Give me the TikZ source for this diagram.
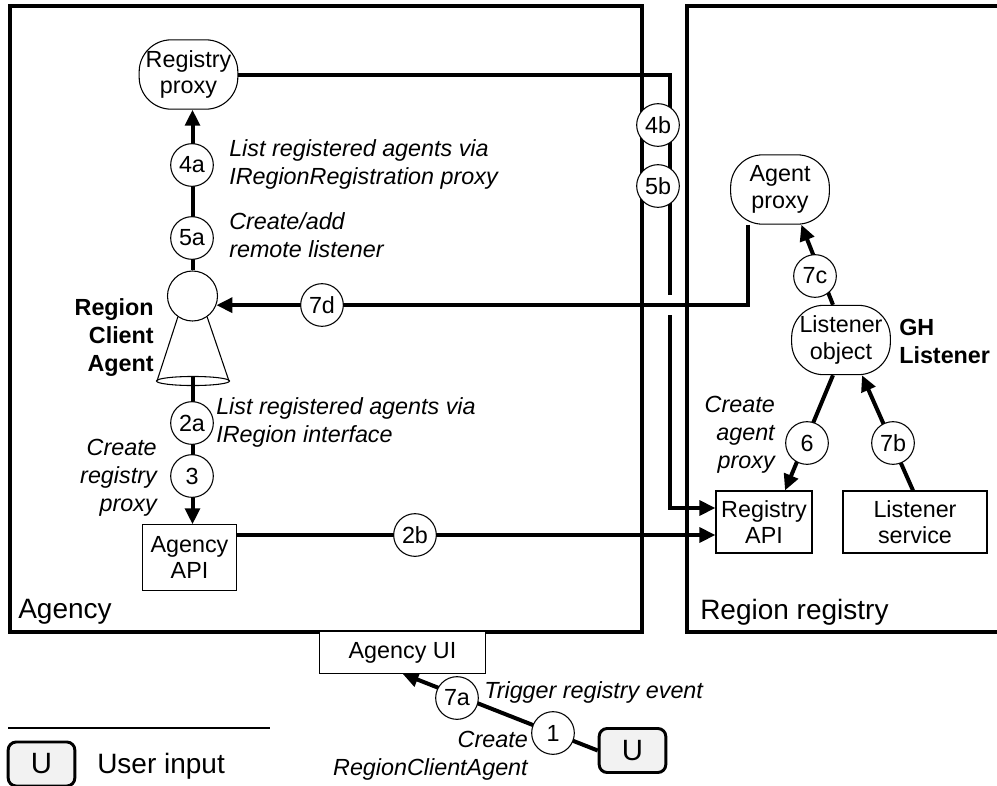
\documentclass[tikz,border=0pt]{standalone}
\usepackage{fontspec}
\setmainfont{Liberation Sans}
\usetikzlibrary{arrows.meta}
\pgfdeclarelayer{bg}
\pgfsetlayers{bg,main}
\begin{document}
\begin{tikzpicture}[x=0.75pt,y=-0.75pt,
  fnt/.style={font=\fontsize{17.5pt}{21pt}\selectfont},
  lab/.style={fnt, inner sep=0pt},
  ilab/.style={font=\fontsize{17.5pt}{21pt}\selectfont\itshape, inner sep=0pt},
  blab/.style={font=\fontsize{17.5pt}{21pt}\selectfont\bfseries, inner sep=0pt},
  big/.style={font=\fontsize{21pt}{24pt}\selectfont, inner sep=0pt},
  num/.style={circle, draw, line width=0.8pt, fill=white, minimum size=32pt, inner sep=0pt, fnt},
  rnd/.style={rectangle, rounded corners=24pt, draw, line width=0.8pt, fill=white, minimum width=74pt, minimum height=52pt, inner sep=0pt, align=center, font=\fontsize{17.5pt}{20pt}\selectfont},
  box/.style={rectangle, draw, line width=0.8pt, fill=white, inner sep=0pt, align=center, font=\fontsize{17.5pt}{20pt}\selectfont},
  ubox/.style={rectangle, rounded corners=6pt, draw, line width=2.2pt, fill=gray!10, minimum width=50pt, minimum height=33pt, inner sep=0pt, font=\fontsize{22pt}{24pt}\selectfont},
  conn/.style={line width=3pt},
  arr/.style={-{Triangle[length=12pt,width=11pt]}},
  frame/.style={line width=2.5pt},
]
\useasboundingbox (0,0) rectangle (997,786);

% main nodes
\node[rnd] (rp) at (188.5,74.5) {Registry\\proxy};
\node[rnd] (ap) at (780,189.5) {Agent\\proxy};
\node[rnd] (lo) at (841,340) {Listener\\object};
\node[circle, draw, line width=0.8pt, fill=white, minimum size=37.5pt, inner sep=0pt] (ca) at (192.5,296) {};
\node[box, minimum width=71pt, minimum height=49pt] (aapi) at (189.5,557.5) {Agency\\API};
\node[box, minimum width=72pt, minimum height=46.5pt] (rapi) at (764,522) {Registry\\API};
\node[box, minimum width=108pt, minimum height=46.5pt] (lsvc) at (915,522) {Listener\\service};
\node[box, minimum width=124pt, minimum height=31pt] (aui) at (402.5,652.5) {Agency UI};
\node[ubox] (u) at (632.5,750.5) {U};
\node[ubox] (ul) at (41.5,764) {U};

% number circles
\node[num] (c4a) at (192,165) {4a};
\node[num] (c5a) at (192,238) {5a};
\node[num] (c7d) at (322,305) {7d};
\node[num] (c2a) at (192,423) {2a};
\node[num] (c3) at (192,476) {3};
\node[num] (c2b) at (415,535) {2b};
\node[num] (c4b) at (658,125) {4b};
\node[num] (c5b) at (658,186) {5b};
\node[num] (c7c) at (815,276) {7c};
\node[num] (c6) at (807,443) {6};
\node[num] (c7b) at (893,443) {7b};
\node[num] (c7a) at (457,698) {7a};
\node[num] (c1) at (553,733) {1};

% cone of the client agent
\draw[line width=0.8pt] (ca.-125) -- (157,381);
\draw[line width=0.8pt] (ca.-55) -- (229,381);
\draw[line width=0.8pt] (193,381) ellipse [x radius=27.4pt, y radius=3.4pt];
\coordinate (cb) at (192.5,377);

% labels
\node[ilab, anchor=west, align=left] (t4a) at (229,164) {List registered agents via\\IRegionRegistration proxy};
\node[ilab, anchor=west, align=left] (t5a) at (229,235) {Create/add\\remote listener};
\node[ilab, anchor=west, align=left] (t2a) at (216,422) {List registered agents via\\IRegion interface};
\node[ilab, anchor=east, align=right] (t3) at (157,478) {Create\\registry\\proxy};
\node[ilab, anchor=east, align=right] (t6) at (775,435) {Create\\agent\\proxy};
\node[blab, anchor=east, align=right] (tca) at (154,338) {Region\\Client\\Agent};
\node[blab, anchor=west, align=left] (tgh) at (899,341) {GH\\Listener};
\node[ilab, anchor=west] (t7a) at (484,692) {Trigger registry event};
\node[ilab, anchor=east, align=right] (t1) at (528,756) {Create\\RegionClientAgent};
\node[big, anchor=west] (tu) at (97,766) {User input};
\node[big, anchor=west] (tag) at (18,612) {Agency};
\node[big, anchor=west] (trr) at (700,612) {Region registry};

\coordinate (k1) at (670,74.5);
\coordinate (k2) at (670,508);

\begin{pgfonlayer}{bg}
  \draw[frame] (10,6) rectangle (642,632);
  \draw[frame] (1005,6) -- (687,6) -- (687,632) -- (1005,632);
  \draw[conn,arr] (rp.east) -- (k1) -- (k2) -- (rapi.west |- k2);
  \fill[white] (664,295) rectangle (676,315);
  \draw[conn,arr] ([xshift=-24pt]ap.south) |- (ca.-21);
  \draw[conn,arr] (ca.north) -- (ca.north |- rp.south);
  \draw[conn,arr] (cb) -- (cb |- aapi.north);
  \draw[conn,arr] (aapi.east |- c2b) -- (rapi.west |- c2b);
  \draw[conn,arr] ([xshift=-6pt]lo.north) -- ([xshift=16pt]ap.south);
  \draw[conn,arr] ([xshift=-6pt]lo.south) -- ([xshift=15.75pt]rapi.north);
  \draw[conn,arr] ([xshift=-1.5pt]lsvc.north) -- ([xshift=15.75pt]lo.south);
  \draw[conn,arr] (u.west) -- (aui.south);
  \draw[line width=0.8pt] (8,728) -- (270,728);
\end{pgfonlayer}
\end{tikzpicture}
\end{document}
